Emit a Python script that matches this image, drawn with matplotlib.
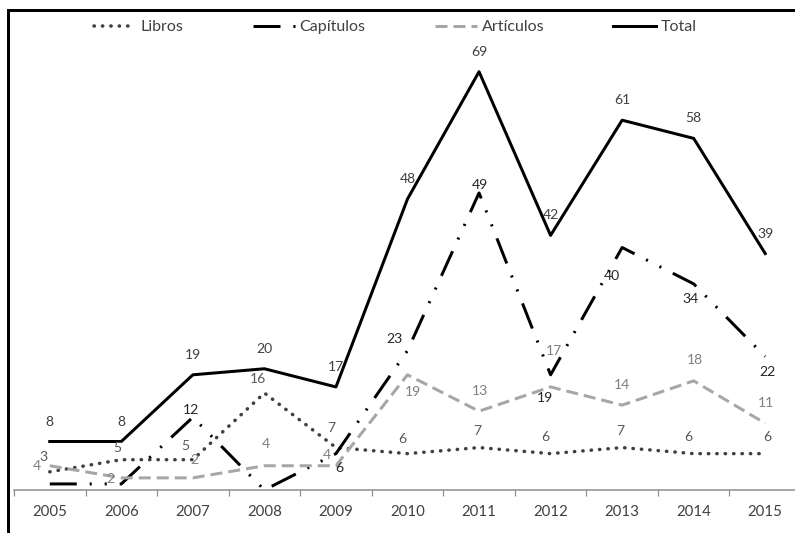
import matplotlib.pyplot as plt
from matplotlib.lines import Line2D

# ---------------------------
# Data
# ---------------------------
years = ["2005", "2006", "2007", "2008", "2009", "2010",
         "2011", "2012", "2013", "2014", "2015"]
libros = [3, 5, 5, 16, 7, 6, 7, 6, 7, 6, 6]
capitulos = [1, 1, 12, 0, 6, 23, 49, 19, 40, 34, 22]
articulos = [4, 2, 2, 4, 4, 19, 13, 17, 14, 18, 11]
total = [8, 8, 19, 20, 17, 48, 69, 42, 61, 58, 39]

# which points get a value label (Capitulos 2005, 2006, 2008 have none)
cap_show = [False, False, True, False, True, True, True, True, True, True, True]

# label offsets in points (x, y)
off_total = [(0, 20)] * 11
off_libros = [(-6, 15), (-4, 12), (-8, 14), (-6, 14), (-5, 20), (-5, 15),
              (-2, 17), (-5, 17), (-2, 17), (-5, 17), (2, 17)]
off_art = [(-13, 0), (-11, -1), (2, 18), (1, 22), (-9, 11), (6, -17),
           (1, 20), (3, 36), (0, 20), (1, 21), (1, 20)]
off_cap = [(0, 0), (0, 0), (-2, 7), (0, 0), (3, -14), (-13, 12),
           (1, 8), (-6, -23), (-10, -28), (-3, -15), (2, -15)]

x = list(range(len(years)))

plt.rcParams["font.family"] = ["Lato", "DejaVu Sans"]

fig = plt.figure(figsize=(795 / 72, 533 / 72), dpi=72)
ax = fig.add_axes([14 / 795, 43 / 533, 787 / 795, 485 / 533])

lw = 3
l_lib, = ax.plot(x, libros, color="#404040", lw=lw + 0.5,
                 linestyle=(0, (0.1, 2.3)), dash_capstyle="round",
                 label="Libros")
l_cap, = ax.plot(x, capitulos, color="black", lw=lw,
                 linestyle=(0, (9, 4.3, 0.7, 4.3, 0.7, 4.3)),
                 label="Capítulos")
l_art, = ax.plot(x, articulos, color="#a6a6a6", lw=lw,
                 linestyle=(0, (4, 2)), label="Artículos")
l_tot, = ax.plot(x, total, color="black", lw=lw, label="Total")

# ---------------------------
# Value labels
# ---------------------------
def labels(vals, offs, color, show=None):
    for i, v in enumerate(vals):
        if show is not None and not show[i]:
            continue
        ax.annotate(str(v), (x[i], v), xytext=offs[i],
                    textcoords="offset points", ha="center", va="center",
                    fontsize=14, color=color)

labels(total, off_total, "#404040")
labels(libros, off_libros, "#595959")
labels(articulos, off_art, "#808080")
labels(capitulos, off_cap, "#262626", cap_show)

# ---------------------------
# Axes
# ---------------------------
ax.set_xlim(-0.5, len(years) - 0.5)
ax.set_ylim(0, 80)
ax.set_xticks(x)
ax.set_xticklabels(years, fontsize=15, color="#404040")
ax.set_xticks([i - 0.5 for i in range(len(years) + 1)], minor=True)
ax.tick_params(axis="x", which="major", length=0, pad=15)
ax.tick_params(axis="x", which="minor", length=6, width=1.2, color="#8c8c8c")
ax.set_yticks([])
for s in ["top", "right", "left"]:
    ax.spines[s].set_visible(False)
ax.spines["bottom"].set_color("#8c8c8c")
ax.spines["bottom"].set_linewidth(1.5)
ax.patch.set_alpha(0)

# ---------------------------
# Legend
# ---------------------------
fig.legend(handles=[l_lib, l_cap, l_art, l_tot], loc="center",
           bbox_to_anchor=(395 / 795, 1 - 27 / 533), ncol=4, frameon=False,
           fontsize=16, handlelength=2.65, handletextpad=0.3,
           columnspacing=4.3, labelcolor="#404040")

# chart border (cropped box)
fig.add_artist(Line2D([8 / 795, 1], [1 - 10 / 533] * 2, color="black", lw=3,
                      transform=fig.transFigure))
fig.add_artist(Line2D([8 / 795] * 2, [0, 1 - 10 / 533], color="black", lw=3,
                      transform=fig.transFigure))

fig.savefig("out.png", dpi=72)
